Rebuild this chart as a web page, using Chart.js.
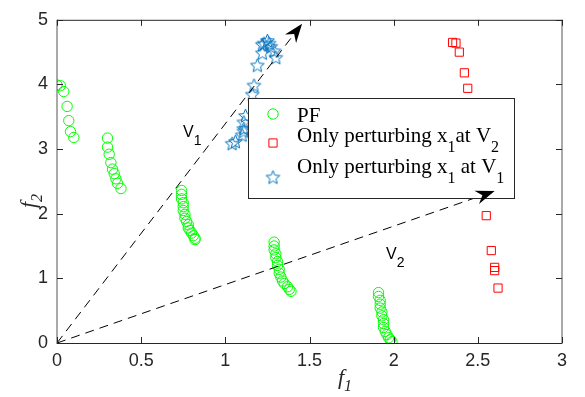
<!DOCTYPE html>
<html>
<head>
<meta charset="utf-8">
<script src="https://cdn.jsdelivr.net/npm/chart.js@4"></script>
<style>
  body { margin: 0; background: #fff; }
  #wrap { width: 585px; height: 397px; }
</style>
</head>
<body>
<div id="wrap"><canvas id="chart" width="585" height="397"></canvas></div>
<script>
// PF points (green circles)
const pfX = [0.00, 0.02, 0.04, 0.06, 0.07, 0.08, 0.10,
  0.30, 0.30, 0.31, 0.32, 0.33, 0.34, 0.35, 0.36, 0.38,
  0.74, 0.74, 0.74, 0.75, 0.75, 0.75, 0.76, 0.76, 0.77, 0.78, 0.78, 0.79, 0.80, 0.81, 0.82, 0.82,
  1.29, 1.29, 1.29, 1.30, 1.30, 1.31, 1.31, 1.32, 1.32, 1.33, 1.34, 1.35, 1.37, 1.38, 1.39,
  1.91, 1.91, 1.92, 1.92, 1.92, 1.93, 1.93, 1.94, 1.94, 1.94, 1.95, 1.96, 1.97, 1.98, 1.99];
const pfY = [3.99, 3.98, 3.89, 3.66, 3.44, 3.27, 3.18,
  3.17, 3.03, 2.92, 2.79, 2.69, 2.62, 2.54, 2.47, 2.39,
  2.36, 2.30, 2.23, 2.17, 2.11, 2.05, 1.99, 1.93, 1.88, 1.83, 1.78, 1.74, 1.70, 1.66, 1.62, 1.60,
  1.56, 1.50, 1.44, 1.38, 1.32, 1.26, 1.20, 1.14, 1.08, 1.02, 0.96, 0.92, 0.87, 0.83, 0.80,
  0.78, 0.72, 0.66, 0.60, 0.54, 0.48, 0.42, 0.36, 0.30, 0.24, 0.18, 0.13, 0.08, 0.05, 0.02];

// Only perturbing x1 at V2 (red squares)
const v2X = [2.35, 2.37, 2.39, 2.42, 2.44, 2.55, 2.58, 2.60, 2.60, 2.62];
const v2Y = [4.65, 4.64, 4.50, 4.18, 3.94, 1.97, 1.43, 1.17, 1.12, 0.85];

// Only perturbing x1 at V1 (blue stars)
const v1X = [1.04, 1.06, 1.10, 1.11, 1.11, 1.11, 1.12, 1.16, 1.17, 1.19, 1.22, 1.22, 1.23, 1.25, 1.26, 1.27, 1.29, 1.30];
const v1Y = [3.09, 3.12, 3.22, 3.28, 3.32, 3.42, 3.52, 3.85, 3.99, 4.30, 4.49, 4.62, 4.64, 4.68, 4.64, 4.59, 4.52, 4.42];

// direction arrows V1 and V2 (start at origin)
const arrowOrigin = [0, 0];
const arrowV1 = [1.456, 4.94];
const arrowV2 = [2.60, 2.35];

const xTicks = [0, 0.5, 1, 1.5, 2, 2.5, 3];
const yTicks = [0, 1, 2, 3, 4, 5];

const toPts = (xs, ys) => xs.map((x, i) => ({ x: x, y: ys[i] }));

const GREEN = '#00ff00';
const RED = '#ff0000';
const BLUE = '#0072bd';
const AXIS = '#262626';

// pentagram marker (hollow)
function makeStar(color, r) {
  const c = document.createElement('canvas');
  const s = Math.ceil(r * 2 + 4);
  c.width = s; c.height = s;
  const g = c.getContext('2d');
  g.strokeStyle = color;
  g.lineWidth = 1;
  g.beginPath();
  for (let i = 0; i < 10; i++) {
    const rad = i % 2 === 0 ? r : r * 0.45;
    const a = -Math.PI / 2 + i * Math.PI / 5;
    const px = s / 2 + rad * Math.cos(a), py = s / 2 + 0.8 + rad * Math.sin(a);
    if (i) g.lineTo(px, py); else g.moveTo(px, py);
  }
  g.closePath();
  g.stroke();
  return c;
}
const starImg = makeStar(BLUE, 7.2);

// text with subscripts: parts = [[text, isSub], ...]
function drawRich(ctx, parts, x, y, font, subFont, subDy) {
  let cx = x;
  parts.forEach(p => {
    ctx.font = p[1] ? subFont : font;
    ctx.fillText(p[0], cx, y + (p[1] ? subDy : 0));
    cx += ctx.measureText(p[0]).width;
  });
}

function arrowHead(ctx, x0, y0, x1, y1) {
  const a = Math.atan2(y1 - y0, x1 - x0);
  const L = 19, W = 7, B = 13;
  ctx.save();
  ctx.translate(x1, y1);
  ctx.rotate(a);
  ctx.fillStyle = '#000';
  ctx.beginPath();
  ctx.moveTo(0, 0);
  ctx.lineTo(-L, -W);
  ctx.lineTo(-B, 0);
  ctx.lineTo(-L, W);
  ctx.closePath();
  ctx.fill();
  ctx.restore();
}

const decor = {
  id: 'decor',
  afterDraw(chart) {
    const ctx = chart.ctx;
    const xs = chart.scales.x, ys = chart.scales.y;
    const a = chart.chartArea;

    // axes box
    ctx.save();
    ctx.lineWidth = 1;
    ctx.strokeStyle = AXIS;
    ctx.beginPath();
    ctx.moveTo(a.left, a.top + 0.5); ctx.lineTo(a.right, a.top + 0.5);
    ctx.moveTo(a.left, a.bottom + 0.5); ctx.lineTo(a.right, a.bottom + 0.5);
    ctx.stroke();
    ctx.strokeStyle = '#555';
    ctx.beginPath();
    ctx.moveTo(a.left, a.top); ctx.lineTo(a.left, a.bottom + 1);
    ctx.moveTo(a.right, a.top); ctx.lineTo(a.right, a.bottom + 1);
    ctx.stroke();

    // inner ticks
    ctx.strokeStyle = AXIS;
    ctx.beginPath();
    xTicks.forEach(v => {
      const px = Math.round(xs.getPixelForValue(v)) + 0.5;
      ctx.moveTo(px, a.bottom); ctx.lineTo(px, a.bottom - 6);
      ctx.moveTo(px, a.top); ctx.lineTo(px, a.top + 6);
    });
    yTicks.forEach(v => {
      const py = Math.round(ys.getPixelForValue(v)) + 0.5;
      ctx.moveTo(a.left, py); ctx.lineTo(a.left + 6, py);
      ctx.moveTo(a.right, py); ctx.lineTo(a.right - 6, py);
    });
    ctx.stroke();

    // legend
    const lx = 248.5, ly = 98.5, lw = 266, lh = 100;
    ctx.fillStyle = '#fff';
    ctx.fillRect(lx, ly, lw, lh);
    ctx.strokeStyle = AXIS;
    ctx.strokeRect(lx, ly, lw, lh);

    const H = Chart.helpers;
    ctx.lineWidth = 1;
    ctx.strokeStyle = GREEN;
    H.drawPoint(ctx, { pointStyle: 'circle', radius: 5.2, rotation: 0, borderWidth: 1 }, 273, 114);
    ctx.strokeStyle = RED;
    H.drawPoint(ctx, { pointStyle: 'rect', radius: 5.8, rotation: 0, borderWidth: 1 }, 273, 143);
    ctx.drawImage(starImg, 273 - starImg.width / 2, 177 - starImg.height / 2);

    ctx.fillStyle = '#000';
    ctx.textBaseline = 'alphabetic';
    ctx.textAlign = 'left';
    const lf = '21px "Liberation Serif", "Times New Roman", serif';
    const sf = '16px "Liberation Serif", "Times New Roman", serif';
    drawRich(ctx, [['PF', false]], 297, 122, lf, sf, 8);
    drawRich(ctx, [['Only perturbing x', false], ['1', true], ['at V', false], ['2', true]], 297, 142, lf, sf, 10);
    drawRich(ctx, [['Only perturbing x', false], ['1', true], [' at V', false], ['1', true]], 297, 173, lf, sf, 10);

    // arrow heads on top
    const ox = xs.getPixelForValue(arrowOrigin[0]), oy = ys.getPixelForValue(arrowOrigin[1]);
    arrowHead(ctx, ox, oy, xs.getPixelForValue(arrowV1[0]), ys.getPixelForValue(arrowV1[1]));
    arrowHead(ctx, ox, oy, xs.getPixelForValue(arrowV2[0]), ys.getPixelForValue(arrowV2[1]));

    // V labels
    const vf = '16px "Liberation Sans", Arial, sans-serif';
    const vs = '14px "Liberation Sans", Arial, sans-serif';
    drawRich(ctx, [['V', false], ['1', true]], 183, 137, vf, vs, 8);
    drawRich(ctx, [['V', false], ['2', true]], 386, 259, vf, vs, 8);

    // axis titles
    ctx.fillStyle = AXIS;
    const tf = 'italic 22px "Liberation Serif", "Times New Roman", serif';
    const ts = 'italic 16px "Liberation Serif", "Times New Roman", serif';
    drawRich(ctx, [['f', false], ['1', true]], 338, 384, tf, ts, 7);
    ctx.save();
    ctx.translate(35, 208);
    ctx.rotate(-Math.PI / 2);
    drawRich(ctx, [['f', false], ['2', true]], 0, 0, tf, ts, 7);
    ctx.restore();
    ctx.restore();
  }
};

new Chart(document.getElementById('chart'), {
  type: 'scatter',
  data: {
    datasets: [
      {
        label: 'V1 direction',
        type: 'line',
        data: [{ x: arrowOrigin[0], y: arrowOrigin[1] }, { x: arrowV1[0], y: arrowV1[1] }],
        borderColor: '#000', borderWidth: 1, borderDash: [9, 6],
        pointRadius: 0, fill: false
      },
      {
        label: 'V2 direction',
        type: 'line',
        data: [{ x: arrowOrigin[0], y: arrowOrigin[1] }, { x: arrowV2[0], y: arrowV2[1] }],
        borderColor: '#000', borderWidth: 1, borderDash: [9, 6],
        pointRadius: 0, fill: false
      },
      {
        label: 'PF',
        data: toPts(pfX, pfY),
        pointStyle: 'circle', pointRadius: 5.2,
        borderColor: GREEN, backgroundColor: 'rgba(0,0,0,0)', borderWidth: 1
      },
      {
        label: 'Only perturbing x1 at V2',
        data: toPts(v2X, v2Y),
        pointStyle: 'rect', pointRadius: 5.8,
        borderColor: RED, backgroundColor: 'rgba(0,0,0,0)', borderWidth: 1
      },
      {
        label: 'Only perturbing x1 at V1',
        data: toPts(v1X, v1Y),
        pointStyle: starImg, pointRadius: 7,
        borderColor: BLUE, backgroundColor: 'rgba(0,0,0,0)'
      }
    ]
  },
  options: {
    responsive: false,
    animation: false,
    devicePixelRatio: 1,
    layout: { padding: { left: 0, top: 10, right: 23, bottom: 0 } },
    plugins: { legend: { display: false }, tooltip: { enabled: false } },
    scales: {
      x: {
        type: 'linear', min: 0, max: 3,
        afterFit: s => { s.height = 54; },
        afterBuildTicks: s => { s.ticks = xTicks.map(v => ({ value: v })); },
        grid: { display: false, drawTicks: false },
        border: { display: false },
        ticks: {
          padding: 7, maxRotation: 0,
          color: AXIS,
          font: { family: '"Liberation Sans", Arial, sans-serif', size: 18 },
          callback: v => String(v)
        }
      },
      y: {
        type: 'linear', min: 0, max: 5,
        afterFit: s => { s.width = 57; },
        afterBuildTicks: s => { s.ticks = yTicks.map(v => ({ value: v })); },
        grid: { display: false, drawTicks: false },
        border: { display: false },
        ticks: {
          padding: 9,
          color: AXIS,
          font: { family: '"Liberation Sans", Arial, sans-serif', size: 18 },
          callback: v => String(v)
        }
      }
    }
  },
  plugins: [decor]
});
</script>
</body>
</html>
